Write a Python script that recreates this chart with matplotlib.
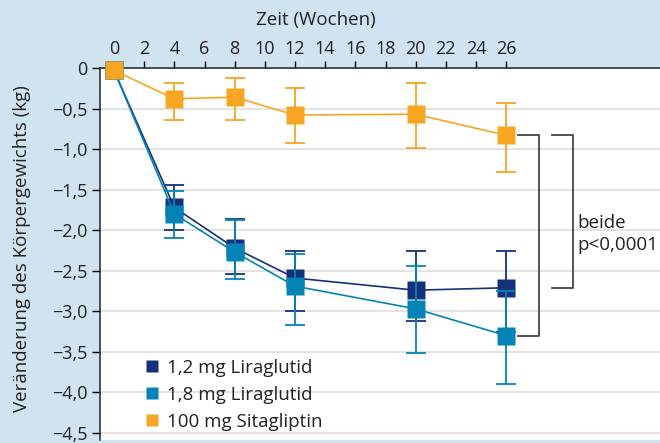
import matplotlib
matplotlib.use("Agg")
import matplotlib.pyplot as plt
from matplotlib.lines import Line2D

plt.rcParams['font.family'] = ['Open Sans', 'DejaVu Sans']

# Daten (Wochen, Mittelwert, obere/untere Fehlergrenze)
weeks = [0, 4, 8, 12, 20, 26]

lira12 = [-0.03, -1.72, -2.22, -2.59, -2.74, -2.71]
lira12_hi = [-0.03, -1.44, -1.86, -2.26, -2.26, -2.26]
lira12_lo = [-0.03, -2.00, -2.54, -3.00, -3.12, -3.25]

lira18 = [-0.03, -1.80, -2.27, -2.69, -2.97, -3.30]
lira18_hi = [-0.03, -1.52, -1.87, -2.29, -2.44, -2.75]
lira18_lo = [-0.03, -2.10, -2.60, -3.17, -3.51, -3.90]

sita = [-0.03, -0.38, -0.36, -0.58, -0.57, -0.83]
sita_hi = [-0.03, -0.19, -0.12, -0.25, -0.19, -0.43]
sita_lo = [-0.03, -0.64, -0.64, -0.92, -0.99, -1.28]

series = [
    ('1,2 mg Liraglutid', lira12, lira12_hi, lira12_lo, '#15317a'),
    ('1,8 mg Liraglutid', lira18, lira18_hi, lira18_lo, '#0484b6'),
    ('100 mg Sitagliptin', sita, sita_hi, sita_lo, '#f6a623'),
]

y_ticks = [0, -0.5, -1.0, -1.5, -2.0, -2.5, -3.0, -3.5, -4.0, -4.5]
x_ticks = list(range(0, 27, 2))

bg = '#cfe3f0'
txt = '#222222'
fig = plt.figure(figsize=(6.6, 4.43), dpi=100, facecolor=bg)
ax = fig.add_axes([0.1515, 0.0068, 0.8485, 0.8397])
ax.set_facecolor('white')

for i, (name, vals, hi, lo, col) in enumerate(series):
    err = [[v - l for v, l in zip(vals, lo)], [h - v for v, h in zip(vals, hi)]]
    ax.errorbar(weeks[1:], vals[1:], yerr=[err[0][1:], err[1][1:]], fmt='none',
                ecolor=col, elinewidth=1.3, capsize=7, capthick=1.3,
                zorder=3 + i, clip_on=False)
    ax.plot(weeks, vals, color=col, lw=1.2, marker='s', ms=13, mec='none',
            mfc=col, zorder=3.5 + i, clip_on=False)

# Klammern
br = dict(color='#444444', lw=1.3, zorder=2)
ax.plot([26.8, 28.2, 28.2, 26.8], [sita[-1], sita[-1], lira18[-1], lira18[-1]], **br)
ax.plot([29.05, 30.4, 30.4, 29.05], [sita[-1], sita[-1], lira12[-1], lira12[-1]], **br)
ax.text(30.75, -2.05, 'beide\np<0,0001', fontsize=13.5, color=txt,
        va='center', ha='left', linespacing=1.3)

ax.set_xlim(-0.93, 36.2)
ax.set_ylim(-4.587, 0)
ax.set_yticks(y_ticks)
ax.set_yticklabels([('%.1f' % t).replace('.', ',').replace('-', '\u2212') if t != 0 else '0'
                    for t in y_ticks], fontsize=13, color=txt)
ax.set_xticks(x_ticks)
ax.set_xticklabels([str(t) for t in x_ticks], fontsize=13, color=txt)
ax.xaxis.tick_top()
ax.tick_params(axis='x', length=5, width=1, pad=2)
ax.tick_params(axis='y', length=6, width=1, pad=3)
ax.yaxis.grid(True, color='#e3e3e3', lw=1.5)
ax.set_axisbelow(True)
for s in ['right', 'bottom']:
    ax.spines[s].set_visible(False)
for s in ['top', 'left']:
    ax.spines[s].set_color(txt)
    ax.spines[s].set_linewidth(1.1)

fig.text(316 / 660, 1 - 20 / 443, 'Zeit (Wochen)', fontsize=13.5, color=txt,
         ha='center', va='center')
fig.text(22 / 660, 1 - 249 / 443, 'Veränderung des Körpergewichts (kg)', fontsize=13.5,
         color=txt, rotation=90, ha='center', va='center')

handles = [Line2D([], [], ls='none', marker='s', ms=8, mfc=c, mec='none')
           for _, _, _, _, c in series]
ax.legend(handles, [s[0] for s in series], loc='lower left',
          bbox_to_anchor=(0.077, 0.025), frameon=False, fontsize=13.5,
          handletextpad=0.27, labelspacing=0.48, borderpad=0, borderaxespad=0,
          handlelength=1.0, labelcolor=txt)

fig.savefig('out.png', dpi=100, facecolor=bg)
